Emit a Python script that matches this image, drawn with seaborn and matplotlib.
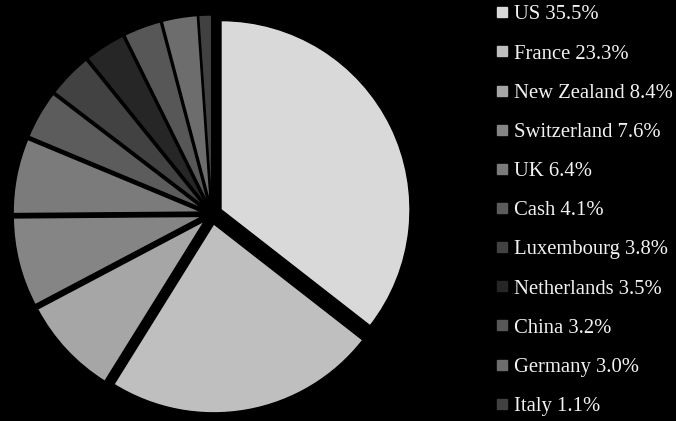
import matplotlib
matplotlib.use("Agg")
import matplotlib.pyplot as plt
from matplotlib.lines import Line2D
import seaborn as sns

countries = ["US", "France", "New Zealand", "Switzerland", "UK", "Cash",
             "Luxembourg", "Netherlands", "China", "Germany", "Italy"]
shares = [35.5, 23.3, 8.4, 7.6, 6.4, 4.1, 3.8, 3.5, 3.2, 3.0, 1.1]
colors = ["#d9d9d9", "#bfbfbf", "#a6a6a6", "#858585", "#7b7b7b", "#5c5c5c",
          "#424242", "#262626", "#575757", "#6d6d6d", "#414141"]

sns.set_style("dark", {"axes.facecolor": "black", "figure.facecolor": "black"})
plt.rcParams["font.family"] = ["Liberation Serif", "DejaVu Serif"]

W, H = 676, 421
fig = plt.figure(figsize=(W / 100, H / 100), dpi=100, facecolor="black")

r_px = 189.0
cx, cy = 212.0, 421 - 214.0
half = 1.1 * r_px
ax = fig.add_axes([(cx - half) / W, (cy - half) / H, 2 * half / W, 2 * half / H])
ax.set_facecolor("black")

ax.pie(shares, colors=colors, startangle=90, counterclock=False,
       explode=[0.053] * len(shares), radius=1.0,
       wedgeprops={"edgecolor": "black", "linewidth": 1.0})
ax.set_xlim(-1.1, 1.1)
ax.set_ylim(-1.1, 1.1)
ax.set_aspect("auto")
ax.axis("off")

handles = [Line2D([], [], marker="s", linestyle="", markersize=6.5,
                  markerfacecolor=c, markeredgecolor=c) for c in colors]
labels = [f"{n} {v:.1f}%" for n, v in zip(countries, shares)]
leg = fig.legend(handles, labels, loc="upper left",
                 bbox_to_anchor=(497 / W, 1 - 5 / H),
                 frameon=False, fontsize=14.9, labelcolor="#f2f2f2",
                 handlelength=0.5, handletextpad=0.3, borderpad=0,
                 borderaxespad=0, labelspacing=0.95)

fig.savefig("out.png", dpi=100, facecolor="black")
